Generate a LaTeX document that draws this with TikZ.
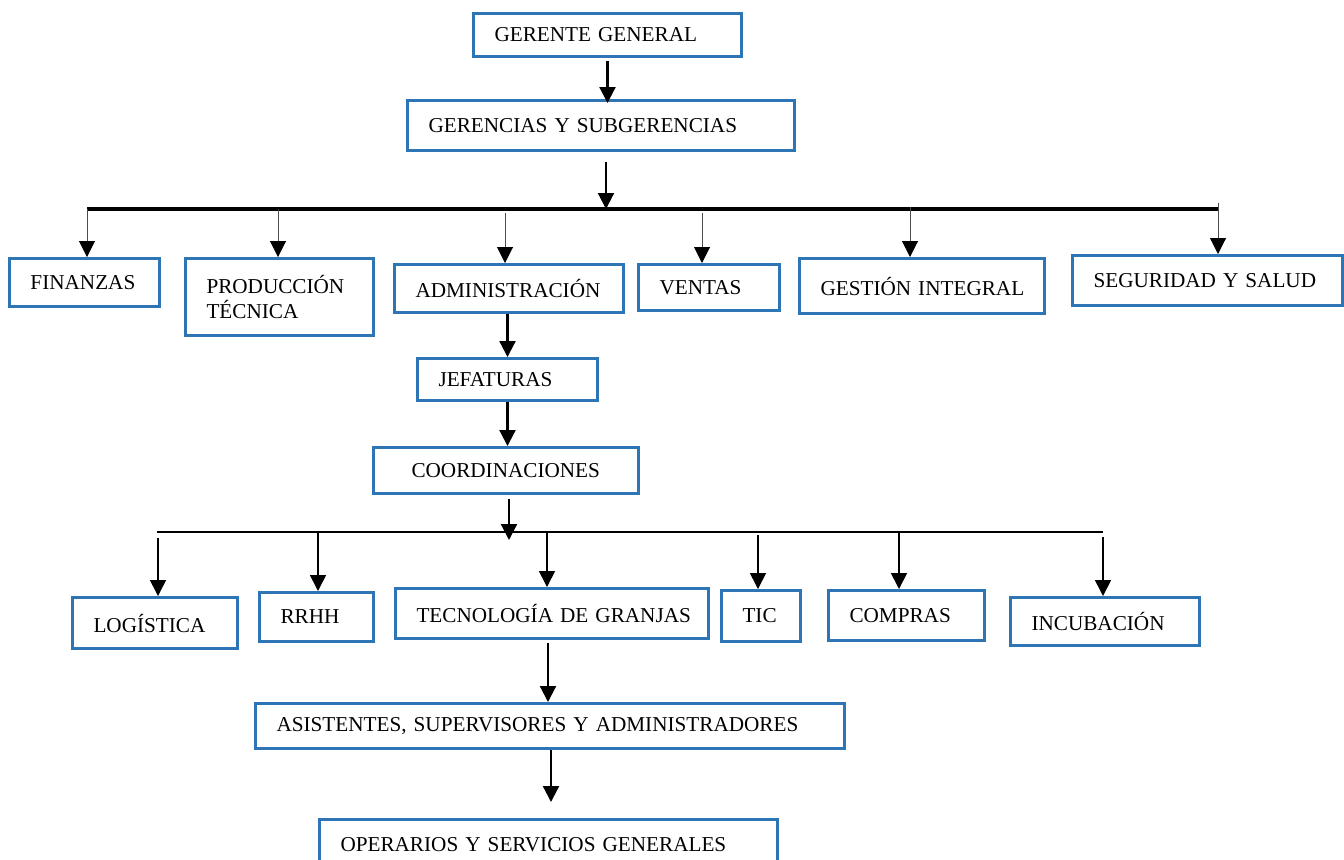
\documentclass[tikz,border=0pt]{standalone}
\usepackage{fontspec}
\setmainfont{Liberation Serif}
\usetikzlibrary{arrows.meta}
\definecolor{azul}{RGB}{46,117,182}

\begin{document}
\begin{tikzpicture}[x=0.5pt, y=-0.5pt,
  unidad/.style={draw=azul, line width=1.5pt, anchor=north west, inner xsep=0pt, inner ysep=2pt,
    align=left, font=\fontsize{10.6}{12.5}\selectfont, execute at begin node={\hspace*{10.5pt}}},
  flecha/.style={line width=1.1pt, -{Triangle[width=8pt,length=8pt]}},
  rama/.style={line width=0.5pt, draw=black!70, -{Triangle[width=8pt,length=8pt,color=black]}},
  rama2/.style={line width=0.8pt, -{Triangle[width=8pt,length=8pt]}},
  bus/.style={line width=1.6pt},
  bus2/.style={line width=0.8pt}]
  \useasboundingbox (0,0) rectangle (1344,859);

  % direccion
  \node [unidad, text width=134pt, minimum height=21.5pt] (ger) at (472,12) {GERENTE GENERAL};
  \node [unidad, text width=193.5pt, minimum height=25pt] (sub) at (406,99) {GERENCIAS Y SUBGERENCIAS};

  % gerencias
  \node [unidad, text width=75pt, minimum height=24pt] (fin) at (8,257) {FINANZAS};
  \node [unidad, text width=94pt, minimum height=38.5pt] (pro) at (184,257) {PRODUCCIÓN\\\hspace*{10.5pt}TÉCNICA};
  \node [unidad, text width=114.5pt, minimum height=24pt] (adm) at (393,263) {ADMINISTRACIÓN};
  \node [unidad, text width=70.5pt, minimum height=23pt] (ven) at (637,263) {VENTAS};
  \node [unidad, text width=122.5pt, minimum height=27.5pt] (ges) at (798,257) {GESTIÓN INTEGRAL};
  \node [unidad, text width=135pt, minimum height=25pt] (seg) at (1071,254) {SEGURIDAD Y SALUD};

  \node [unidad, text width=90pt, minimum height=21pt] (jef) at (416,357) {JEFATURAS};
  \node [unidad, text width=132.5pt, minimum height=23pt] (coo) at (372,446) {\hspace*{8.5pt}COORDINACIONES};

  % coordinaciones
  \node [unidad, text width=82.5pt, minimum height=25.5pt] (log) at (71,596) {LOGÍSTICA};
  \node [unidad, text width=57pt, minimum height=24.5pt] (rrh) at (258,591) {RRHH};
  \node [unidad, text width=156.5pt, minimum height=25pt] (tec) at (394,587) {TECNOLOGÍA DE GRANJAS};
  \node [unidad, text width=39.5pt, minimum height=25.5pt] (tic) at (720,589) {TIC};
  \node [unidad, text width=78pt, minimum height=25pt] (com) at (827,589) {COMPRAS};
  \node [unidad, text width=94.5pt, minimum height=24pt] (inc) at (1009,596) {INCUBACIÓN};

  \node [unidad, text width=294.5pt, minimum height=22.5pt] (asi) at (254,702) {ASISTENTES, SUPERVISORES Y ADMINISTRADORES};
  \node [unidad, text width=229pt, minimum height=25pt] (ope) at (318,818) {OPERARIOS Y SERVICIOS GENERALES};

  % puntos de las lineas
  \coordinate (c1) at (606,209);
  \coordinate (b1o) at (87,209);
  \coordinate (b1e) at (1218,209);
  \coordinate (g1) at (87,209);
  \coordinate (g2) at (278,209);
  \coordinate (g3) at (505,213);
  \coordinate (g4) at (702,213);
  \coordinate (g5) at (910,207);
  \coordinate (g6) at (1218,203);
  \coordinate (c2) at (509,540);
  \coordinate (b2o) at (157,532);
  \coordinate (b2e) at (1103,532);
  \coordinate (k1) at (158,538);
  \coordinate (k2) at (318,532);
  \coordinate (k3) at (547,532);
  \coordinate (k4) at (758,535);
  \coordinate (k5) at (899,532);
  \coordinate (k6) at (1103,537);
  \coordinate (c3) at (548,643);
  \coordinate (c4) at (551,802);

  \draw [flecha] (ger.south) ++(0,3) -- ([yshift=-2pt]ger.south |- sub.north);
  \draw [flecha] (c1 |- sub.south) ++(0,10) -- (c1);
  \draw [bus] (b1o) -- (b1e);
  \draw [rama] (g1) -- (g1 |- fin.north);
  \draw [rama] (g2) -- (g2 |- pro.north);
  \draw [rama] (g3) -- (g3 |- adm.north);
  \draw [rama] (g4) -- (g4 |- ven.north);
  \draw [rama] (g5) -- (g5 |- ges.north);
  \draw [rama] (g6) -- (g6 |- seg.north);

  \draw [flecha] (jef.north |- adm.south) -- (jef.north);
  \draw [flecha] (jef.south) -- (jef.south |- coo.north);
  \draw [flecha] (c2 |- coo.south) ++(0,4) -- (c2);
  \draw [bus2] (b2o) -- (b2e);
  \draw [rama2] (k1) -- (k1 |- log.north);
  \draw [rama2] (k2) -- (k2 |- rrh.north);
  \draw [rama2] (k3) -- (k3 |- tec.north);
  \draw [rama2] (k4) -- (k4 |- tic.north);
  \draw [rama2] (k5) -- (k5 |- com.north);
  \draw [rama2] (k6) -- (k6 |- inc.north);

  \draw [flecha] (c3) -- (c3 |- asi.north);
  \draw [flecha] (c4 |- asi.south) -- (c4);
\end{tikzpicture}
\end{document}
